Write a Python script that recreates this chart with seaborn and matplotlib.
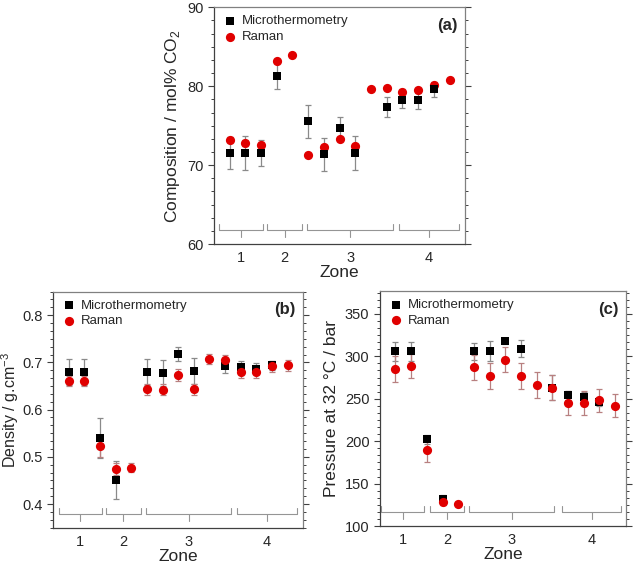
import matplotlib
matplotlib.use("Agg")
import matplotlib.pyplot as plt
from matplotlib.ticker import AutoMinorLocator, MultipleLocator, FormatStrFormatter
import seaborn as sns
import numpy as np
import pandas as pd

# sample index along the x axis (15 inclusions, grouped in 4 zones)
sample = np.arange(1, 16)
zone_names = ['1', '2', '3', '4']
nan = np.nan

# (a) composition, mol% CO2
comp_mt = [71.55, 71.55, 71.6, 81.3, nan, 75.55, 71.4, 74.7, 71.55, nan, 77.35, 78.3, 78.2, 79.6, nan]
comp_mt_err = [2.05, 2.1, 1.65, 1.7, nan, 2.05, 2.1, 1.35, 2.2, nan, 1.25, 1.1, 1.1, 1.0, nan]
comp_ra = [73.2, 72.85, 72.5, 83.2, 83.9, 71.3, 72.3, 73.3, 72.4, 79.7, 79.8, 79.3, 79.5, 80.1, 80.8]
comp_ra_err = [0.3, 0.4, 0.4, 0.3, 0.2, 0.2, 0.3, 0.3, 0.3, 0.2, 0.2, 0.3, 0.3, 0.3, 0.2]

# (b) density, g/cm3
dens_mt = [0.680, 0.680, 0.540, 0.451, nan, 0.680, 0.677, 0.718, 0.682, nan, 0.692, 0.690, 0.687, 0.694, nan]
dens_mt_err = [0.028, 0.028, 0.042, 0.041, nan, 0.028, 0.028, 0.015, 0.028, nan, 0.015, 0.012, 0.012, 0.010, nan]
dens_ra = [0.661, 0.661, 0.523, 0.474, 0.477, 0.643, 0.642, 0.673, 0.643, 0.707, 0.705, 0.680, 0.680, 0.692, 0.694]
dens_ra_err = [0.010, 0.010, 0.024, 0.012, 0.010, 0.012, 0.012, 0.012, 0.012, 0.010, 0.010, 0.012, 0.012, 0.012, 0.012]

# (c) pressure at 32 C, bar
pres_mt = [306, 306, 202, 132, nan, 306, 306, 318, 309, nan, 263, 254, 252, 246, nan]
pres_mt_err = [11, 11, 5, 5, nan, 10, 12, 3, 10, nan, 15, 5, 6, 4, nan]
pres_ra = [285, 289, 189, 128, 126.5, 287, 277, 296, 277, 266, 263, 245, 245, 248, 242]
pres_ra_err = [15, 14, 14, 3, 2, 15, 15, 15, 15, 15, 15, 14, 14, 14, 14]

# zone brackets (start, end) in sample units
brackets_ab = [(0.35, 3.1), (3.4, 5.6), (5.95, 11.4), (11.75, 15.6)]
brackets_c = [(0.1, 2.85), (3.2, 5.4), (5.7, 11.1), (11.6, 15.4)]

sns.set_style("ticks")
plt.rcParams['font.family'] = ['Liberation Sans', 'DejaVu Sans']
plt.rcParams['mathtext.fontset'] = 'custom'
plt.rcParams['mathtext.rm'] = 'Liberation Sans'

fig = plt.figure(figsize=(6.33, 5.65), dpi=100)
ax_a = fig.add_axes([0.338, 0.568, 0.397, 0.419])
ax_b = fig.add_axes([0.084, 0.066, 0.395, 0.418])
ax_c = fig.add_axes([0.600, 0.069, 0.389, 0.416])

spine_col = '#404040'


def draw_panel(ax, mt, mt_err, ra, ra_err, brackets, ylim, major, ylabel, tag, xmax,
               squares_on_top=False):
    df = pd.DataFrame({'sample': sample, 'mt': mt, 'mt_err': mt_err, 'ra': ra, 'ra_err': ra_err})
    ax.errorbar(df['sample'], df['mt'], yerr=df['mt_err'], fmt='none', ecolor='#8a8a8a',
                elinewidth=0.9, capsize=2.2, capthick=0.9, zorder=2)
    ax.errorbar(df['sample'], df['ra'], yerr=df['ra_err'], fmt='none', ecolor='#b88080',
                elinewidth=0.9, capsize=2.2, capthick=0.9, zorder=2)
    z_sq, z_ci = (4, 3) if squares_on_top else (3, 4)
    sns.scatterplot(data=df, x='sample', y='mt', marker='s', color='black', s=34,
                    linewidth=0, ax=ax, zorder=z_sq, label='Microthermometry')
    sns.scatterplot(data=df, x='sample', y='ra', marker='o', color='#e00000', s=44,
                    linewidth=0, ax=ax, zorder=z_ci, label='Raman')

    # zone brackets below the data
    trans = ax.get_xaxis_transform()
    centers = []
    for x0, x1 in brackets:
        xm = (x0 + x1) / 2
        centers.append(xm)
        ax.plot([x0, x0, x1, x1], [0.085, 0.06, 0.06, 0.085], color='#959595', lw=0.8, transform=trans)
        ax.plot([xm, xm], [0.06, 0.03], color='#959595', lw=0.8, transform=trans)

    ax.set_xlim(0, xmax)
    ax.set_ylim(*ylim)
    ax.set_xticks(centers)
    ax.set_xticklabels(zone_names, fontsize=10.5)
    ax.tick_params(axis='x', length=0, pad=5)
    ax.yaxis.set_major_locator(MultipleLocator(major))
    ax.yaxis.set_minor_locator(AutoMinorLocator(6))
    ax.tick_params(axis='y', which='both', direction='out', left=True, right=True,
                   labelsize=10.5, color=spine_col)
    ax.tick_params(axis='y', which='major', length=4, width=0.8)
    ax.tick_params(axis='y', which='minor', length=2.5, width=0.7)
    for side in ['left', 'right', 'top', 'bottom']:
        ax.spines[side].set_visible(True)
        ax.spines[side].set_color(spine_col if side in ('left', 'bottom') else '#808080')
        ax.spines[side].set_linewidth(0.9)

    ax.set_xlabel('Zone', fontsize=12.5, labelpad=0)
    ax.set_ylabel(ylabel, fontsize=12.5, labelpad=4)
    ax.text(0.97, 0.955, tag, transform=ax.transAxes, ha='right', va='top',
            fontsize=12, fontweight='bold')
    ax.legend(loc='upper left', frameon=False, fontsize=9.5, handletextpad=0.3,
              labelspacing=0.25, borderaxespad=0.2, handlelength=1.2,
              bbox_to_anchor=(0.0, 1.0))


draw_panel(ax_a, comp_mt, comp_mt_err, comp_ra, comp_ra_err, brackets_ab, (60, 90), 10,
           'Composition / mol% CO$_2$', '(a)', 16, squares_on_top=True)
draw_panel(ax_b, dens_mt, dens_mt_err, dens_ra, dens_ra_err, brackets_ab, (0.35, 0.85), 0.1,
           'Density / g.cm$^{-3}$', '(b)', 16)
draw_panel(ax_c, pres_mt, pres_mt_err, pres_ra, pres_ra_err, brackets_c, (100, 377), 50,
           'Pressure at 32 °C / bar', '(c)', 15.7)

ax_b.yaxis.set_major_formatter(FormatStrFormatter('%.1f'))
ax_b.yaxis.label.set_fontsize(11.5)
ax_b.yaxis.set_label_coords(-0.128, 0.5)

fig.savefig('out.png', dpi=100)
